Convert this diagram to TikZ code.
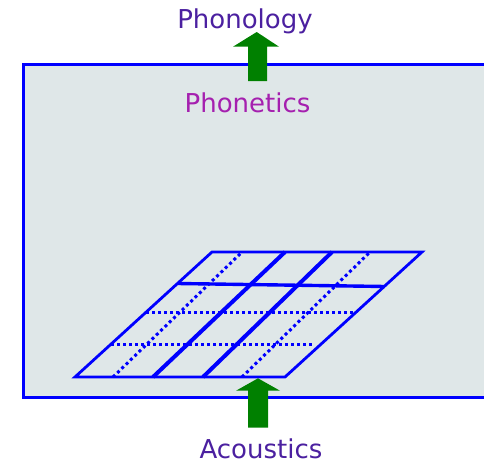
\documentclass[tikz,border=0pt]{standalone}
\usepackage{fontspec}
\setmainfont{DejaVu Sans}
\begin{document}
\begin{tikzpicture}[x=1pt,y=-1pt,
  gridline/.style={draw=blue,line width=2.8pt,line join=miter},
  thickline/.style={draw=blue,line width=4pt},
  dotline/.style={draw=blue,line width=3pt,dash pattern=on 3pt off 3pt},
  greenarrow/.style={fill=arrowgreen,draw=none},
  lbl/.style={inner sep=0pt,font=\fontsize{26}{30}\selectfont}]
\definecolor{arrowgreen}{RGB}{0,128,0}
\definecolor{boxfill}{RGB}{223,231,232}
\definecolor{phonol}{RGB}{75,32,160}
\definecolor{phonet}{RGB}{165,32,175}
\useasboundingbox (0,0) rectangle (484,464);
\clip (0,0) rectangle (484,464);
% background box
\draw[draw=blue,line width=2.8pt,fill=boxfill] (23.7,64.7) rectangle (500,397.7);
% parallelogram grid
\coordinate (BL) at (75,377);
\coordinate (BR) at (285,377);
\coordinate (TR) at (422,252);
\coordinate (TL) at (212,252);
\draw[dotline] (113,377) -- (242,252);
\draw[dotline] (242,377) -- (370,252);
\draw[dotline] (146,312) -- (356,312);
\draw[dotline] (111,344.5) -- (313,344.5);
\draw[thickline] (153,377) -- (285,252);
\draw[thickline] (203,377) -- (332,252);
\draw[draw=blue,line width=3.4pt] (178,283.5) -- (385,286.5);
\draw[gridline] (BL) -- (BR) -- (TR) -- (TL) -- cycle;
% arrows
\fill[greenarrow] (248,81) -- (248,46.7) -- (233,46.7) -- (256.7,32) -- (279,46.7) -- (267,46.7) -- (267,81) -- cycle;
\fill[greenarrow] (248,427.5) -- (248,390.7) -- (236,390.7) -- (258,378.3) -- (280,390.7) -- (268,390.7) -- (268,427.5) -- cycle;
% labels
\node[lbl,text=phonol,anchor=base] (phonology) at (245,28) {Phonology};
\node[lbl,text=phonet,anchor=base] (phonetics) at (247.5,112) {Phonetics};
\node[lbl,text=phonol,anchor=base] (acoustics) at (261,458) {Acoustics};
\end{tikzpicture}
\end{document}
